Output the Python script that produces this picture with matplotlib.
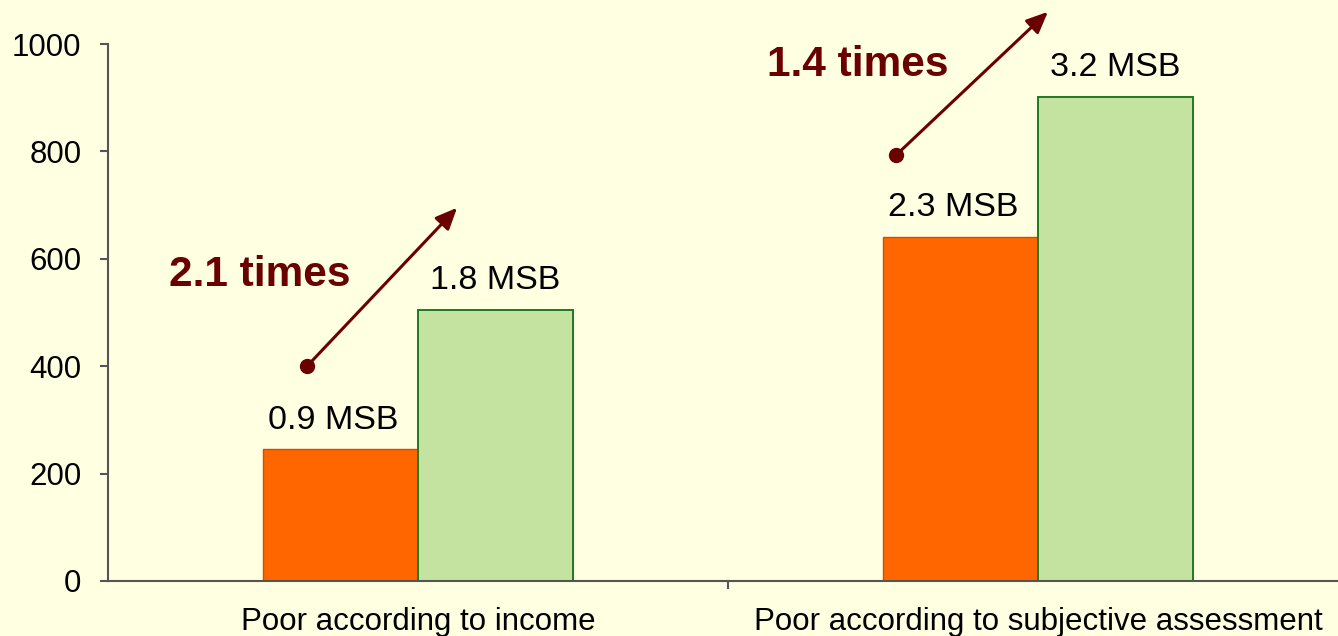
import matplotlib.pyplot as plt
import numpy as np

plt.rcParams["font.family"] = ["Liberation Sans", "DejaVu Sans"]

categories = ["Poor according to income", "Poor according to subjective assessment"]
before_values = [245, 641]
after_values = [505, 901]
before_labels = ["0.9 MSB", "2.3 MSB"]
after_labels = ["1.8 MSB", "3.2 MSB"]
growth_labels = ["2.1 times", "1.4 times"]

bg = "#FFFFE1"
dark_red = "#6B0000"
axis_grey = "#555555"

fig = plt.figure(figsize=(13.38, 6.36), dpi=100, facecolor=bg)
ax = fig.add_axes([108 / 1338, 55 / 636, 1 - 108 / 1338, 537 / 636])
ax.set_facecolor(bg)

x = np.arange(len(categories))
w = 0.25
bars_before = ax.bar(x - w / 2, before_values, w, color="#FF6600", edgecolor="#D84A00", linewidth=1)
bars_after = ax.bar(x + w / 2, after_values, w, color="#C4E3A0", edgecolor="#1E7A1E", linewidth=1.4)

# value labels (orange ones sit a little left of centre in the original)
for bars, labels, dx in [(bars_before, before_labels, -5), (bars_after, after_labels, 0)]:
    for b, lab in zip(bars, labels):
        ax.annotate(lab, (b.get_x() + b.get_width() / 2, b.get_height()),
                    xytext=(dx, 10), textcoords="offset points",
                    ha="center", va="bottom", fontsize=24.5, color="black")

# growth arrows (start dot, arrow end, text position) per group, relative to group centre
arrow_start = [(-0.179, 400), (-0.229, 793)]
arrow_end = [(0.063, 695), (0.016, 1060)]
text_pos = [(-0.256, 570), (-0.290, 960)]
for i, lab in enumerate(growth_labels):
    sx, sy = arrow_start[i]
    ex, ey = arrow_end[i]
    ax.annotate("", xy=(x[i] + ex, ey), xytext=(x[i] + sx, sy),
                arrowprops=dict(arrowstyle="-|>,head_length=0.5,head_width=0.22",
                                color=dark_red, lw=2.2,
                                mutation_scale=26, shrinkA=0, shrinkB=0),
                annotation_clip=False)
    ax.plot(x[i] + sx, sy, "o", color=dark_red, markersize=10, clip_on=False)
    tx, ty = text_pos[i]
    ax.text(x[i] + tx, ty, lab, ha="center", va="center", fontsize=30.5,
            fontweight="bold", color=dark_red)

ax.set_xlim(-0.5, -0.5 + 1230 / 620)
ax.set_ylim(0, 1000)
ax.set_yticks(range(0, 1001, 200))
ax.set_xticks(x)
ax.set_xticklabels(categories)
ax.set_xticks([0.5], minor=True)

for s in ["top", "right"]:
    ax.spines[s].set_visible(False)
for s in ["left", "bottom"]:
    ax.spines[s].set_color(axis_grey)
    ax.spines[s].set_linewidth(1.5)

ax.tick_params(axis="y", direction="out", length=6, width=1.5, color=axis_grey,
               labelsize=22.5, pad=13)
ax.tick_params(axis="x", which="major", length=0, labelsize=22.5, pad=19)
ax.tick_params(axis="x", which="minor", direction="out", length=6, width=1.5, color=axis_grey)

fig.savefig("out.png", facecolor=bg)
